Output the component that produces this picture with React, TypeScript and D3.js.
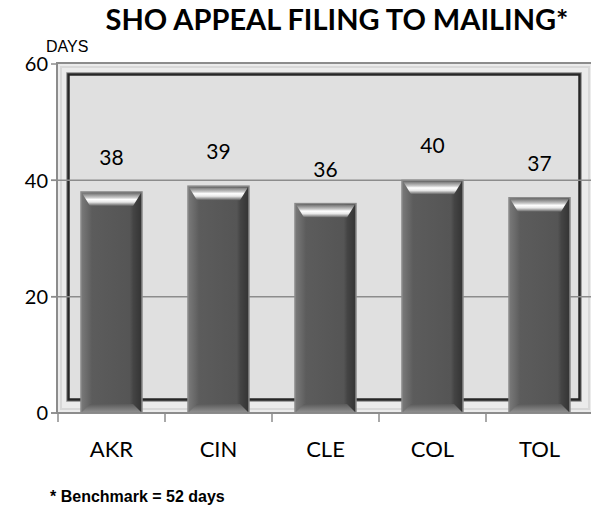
import React from "react";
import * as d3 from "d3";

const categories = ["AKR", "CIN", "CLE", "COL", "TOL"];
const values = [38, 39, 36, 40, 37];
const yTicks = [0, 20, 40, 60];
const title = "SHO APPEAL FILING TO MAILING*";
const yLabel = "DAYS";
const footnote = "* Benchmark = 52 days";

const W = 591;
const H = 508;

export default function App() {
  const x = d3
    .scaleBand<string>()
    .domain(categories)
    .range([58, 593])
    .paddingInner(0.43)
    .paddingOuter(0.215);
  const y = d3.scaleLinear().domain([0, 60]).range([413, 64]);
  const step = x.step();
  const bw = x.bandwidth();
  const catFont = "Lato, 'Open Sans', sans-serif";

  return (
    <svg width={W} height={H} style={{ position: "absolute", left: 0, top: 0, background: "#fff" }}>
      <defs>
        <linearGradient id="body" x1="0" x2="1" y1="0" y2="0">
          <stop offset="0" stopColor="#7a7a7a" />
          <stop offset="0.13" stopColor="#656565" />
          <stop offset="0.18" stopColor="#5c5c5c" />
          <stop offset="0.8" stopColor="#555555" />
          <stop offset="0.86" stopColor="#444444" />
          <stop offset="1" stopColor="#333333" />
        </linearGradient>
        <linearGradient id="topBevel" x1="0" x2="0" y1="0" y2="1">
          <stop offset="0" stopColor="#707070" />
          <stop offset="0.35" stopColor="#c8c8c8" />
          <stop offset="0.5" stopColor="#ffffff" />
          <stop offset="0.7" stopColor="#e8e8e8" />
          <stop offset="1" stopColor="#5c5c5c" />
        </linearGradient>
        <linearGradient id="botBevel" x1="0" x2="0" y1="0" y2="1">
          <stop offset="0" stopColor="#5a5a5a" />
          <stop offset="1" stopColor="#8e8e8e" />
        </linearGradient>
      </defs>

      {/* title */}
      <text x={337} y={30} textAnchor="middle" fontFamily={catFont} fontWeight="bold" fontSize={29} fill="#000">
        {title}
      </text>
      <text x={46} y={52} fontFamily="'Liberation Sans', Arial, sans-serif" fontSize={16} fill="#000">
        {yLabel}
      </text>

      {/* plot frame */}
      <rect x={57} y={63} width={536} height={350} fill="#ebebeb" stroke="#8c8c8c" strokeWidth={2} />
      <rect x={61} y={67} width={528} height={342} fill="none" stroke="#d8d8d8" strokeWidth={2} />
      <rect x={67} y={73} width={514} height={328} fill="#e0e0e0" stroke="#8a8a8a" strokeWidth={1.5} />
      <rect x={68.5} y={74.5} width={511} height={325} fill="none" stroke="#262626" strokeWidth={2.5} />

      {/* y ticks and grid */}
      {yTicks.map((t) => (
        <g key={t}>
          <line x1={51} x2={57} y1={y(t)} y2={y(t)} stroke="#8c8c8c" strokeWidth={1.5} />
          {t !== 0 && t !== 60 && (
            <line x1={51} x2={593} y1={y(t)} y2={y(t)} stroke="#8c8c8c" strokeWidth={1.5} />
          )}
          <text x={48} y={y(t)} dy="0.36em" textAnchor="end" fontFamily={catFont} fontSize={20} fill="#000">
            {t}
          </text>
        </g>
      ))}

      {/* bars */}
      {categories.map((c, i) => {
        const x0 = x(c)!;
        const x1 = x0 + bw;
        const top = y(values[i]);
        const bot = y(0);
        const b = 9;
        const th = 14;
        const bh = 9;
        return (
          <g key={c}>
            <rect x={x0} y={top} width={bw} height={bot - top} fill="url(#body)" stroke="#8a8a8a" strokeWidth={1.5} />
            <polygon
              points={`${x0 + 1},${top + 1} ${x1 - 1},${top + 1} ${x1 - b},${top + th} ${x0 + b},${top + th}`}
              fill="url(#topBevel)"
            />
            <polygon
              points={`${x0 + b},${bot - bh} ${x1 - b},${bot - bh} ${x1 - 1},${bot - 1} ${x0 + 1},${bot - 1}`}
              fill="url(#botBevel)"
            />
            <text
              x={x0 + bw / 2}
              y={top - 27}
              textAnchor="middle"
              fontFamily={catFont}
              fontSize={21}
              fill="#000"
            >
              {values[i]}
            </text>
          </g>
        );
      })}

      {/* x axis */}
      <line x1={51} x2={593} y1={413} y2={413} stroke="#8c8c8c" strokeWidth={1.5} />
      {categories.map((c, i) => (
        <line key={"t" + c} x1={58 + i * step} x2={58 + i * step} y1={413} y2={422} stroke="#8c8c8c" strokeWidth={1.5} />
      ))}
      {categories.map((c) => (
        <text
          key={"l" + c}
          x={x(c)! + bw / 2}
          y={457}
          textAnchor="middle"
          fontFamily={catFont}
          fontSize={22}
          fill="#000"
        >
          {c}
        </text>
      ))}

      <text x={50} y={502} fontFamily="'Liberation Sans', Arial, sans-serif" fontWeight="bold" fontSize={16} fill="#000">
        {footnote}
      </text>
    </svg>
  );
}
